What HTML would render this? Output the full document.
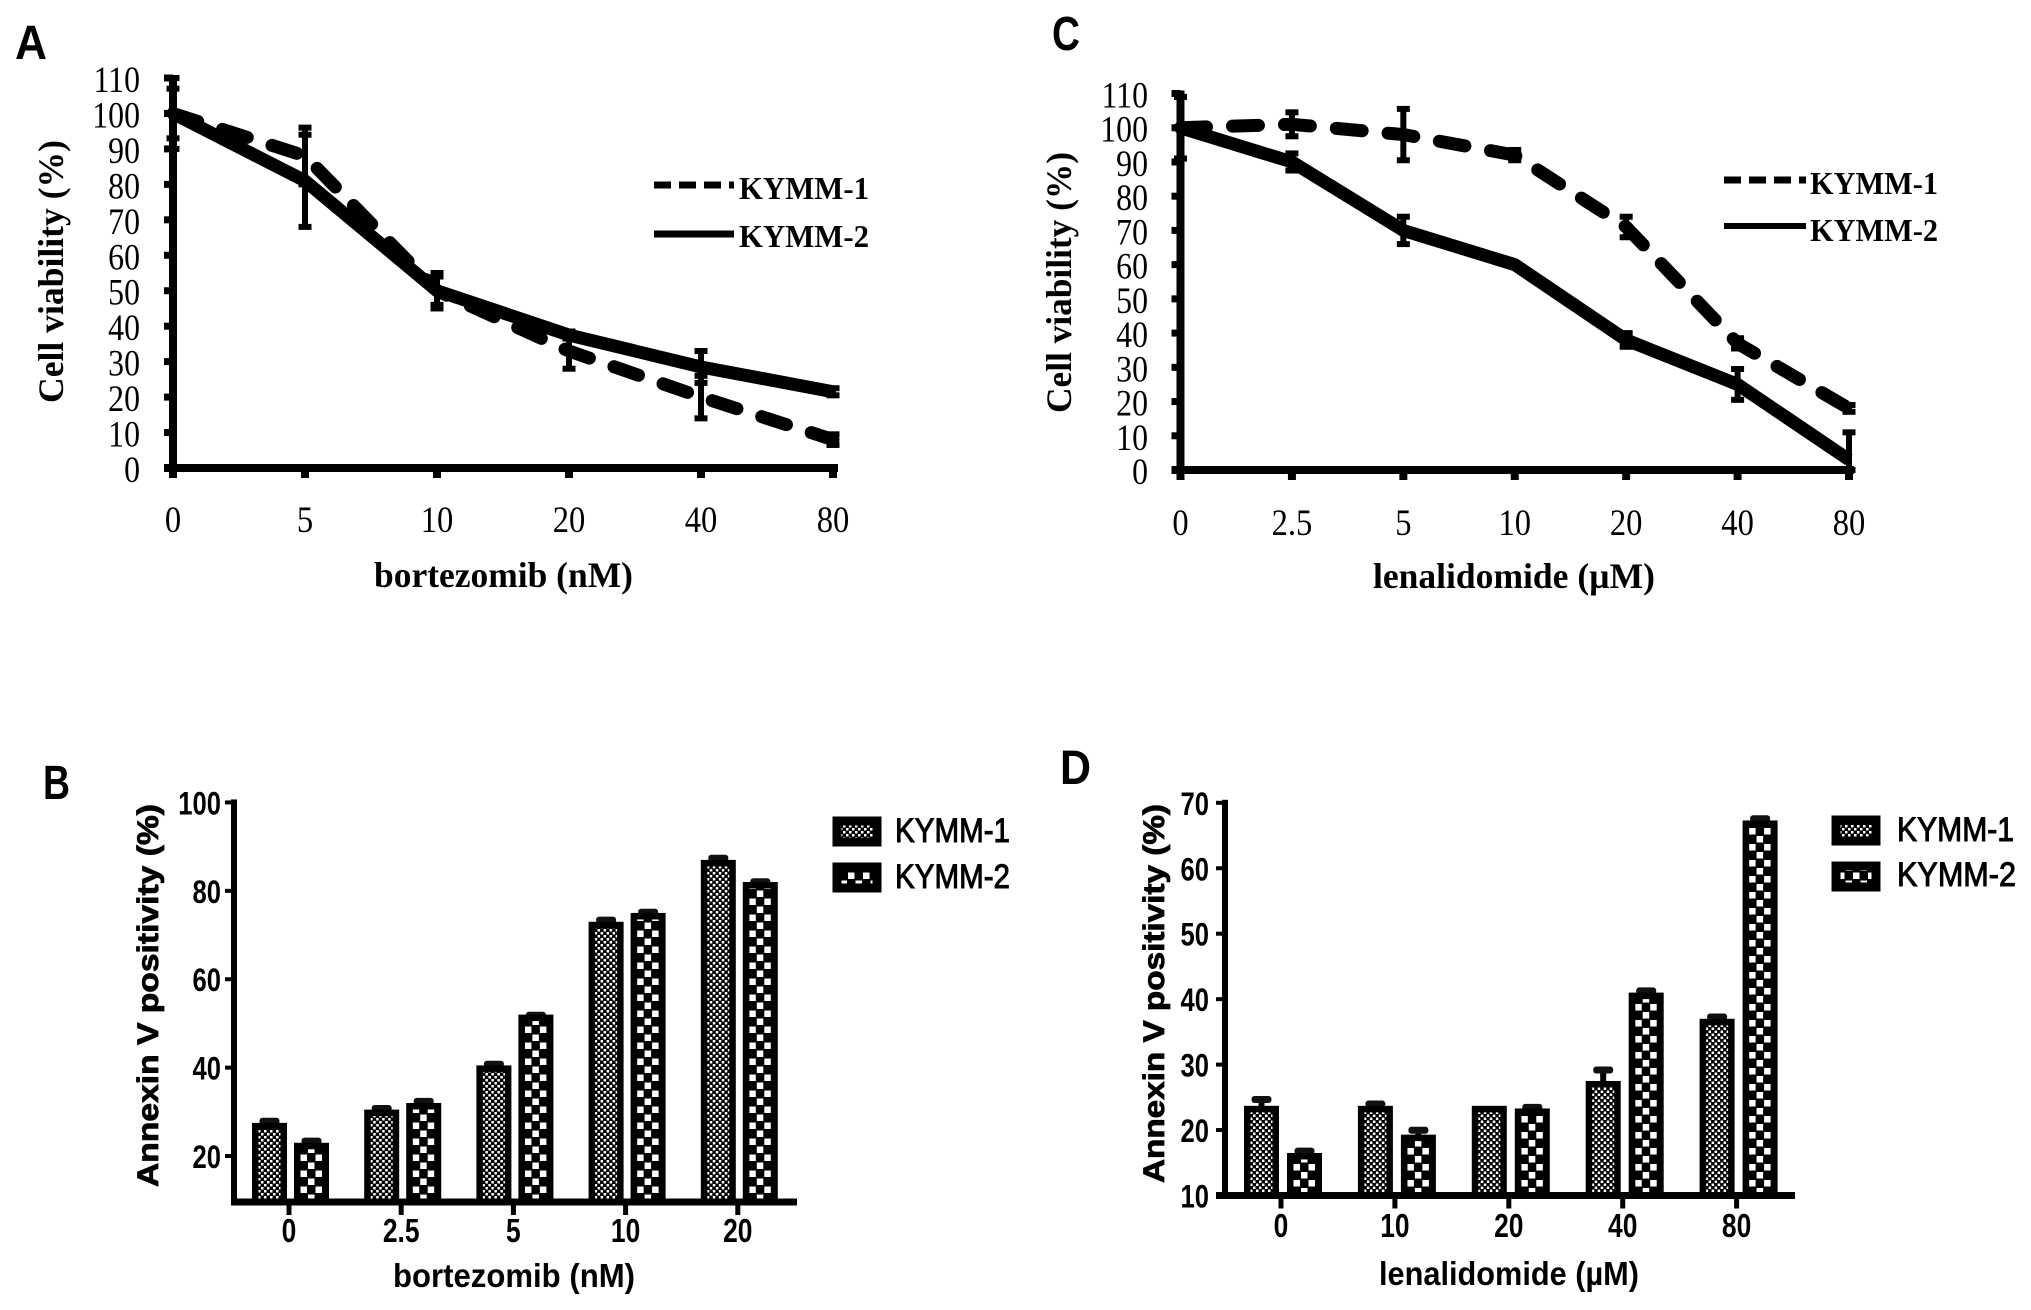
<!DOCTYPE html>
<html lang="en">
<head>
<meta charset="utf-8">
<title>Cell viability and Annexin V positivity</title>
<style>
html,body{margin:0;padding:0;background:#fff;}
svg{display:block;}
.serif{font-family:"Liberation Serif",serif;}
.sans{font-family:"Liberation Sans",sans-serif;}
</style>
</head>
<body>
<svg id="figure" width="2031" height="1310" viewBox="0 0 2031 1310" xmlns="http://www.w3.org/2000/svg">
<defs id="defs">
<pattern id="fine" patternUnits="userSpaceOnUse" width="6" height="6">
<rect width="6" height="6" fill="#000"/>
<rect x="0" y="0" width="2.5" height="2.5" fill="#fff"/>
<rect x="3" y="3" width="2.5" height="2.5" fill="#fff"/>
</pattern>
<pattern id="coarse" patternUnits="userSpaceOnUse" width="15" height="16">
<rect width="15" height="16" fill="#000"/>
<rect x="0.5" y="0.5" width="6.5" height="6.5" fill="#fff"/>
<rect x="8" y="8.5" width="6.5" height="6.5" fill="#fff"/>
</pattern>
</defs>
<rect width="2031" height="1310" fill="#fff"/>

<g class="sans" font-weight="700" font-size="48" fill="#000">
<text x="15" y="59" textLength="32" lengthAdjust="spacingAndGlyphs">A</text>
<text x="1052" y="50" textLength="28" lengthAdjust="spacingAndGlyphs">C</text>
<text x="43" y="799" textLength="27" lengthAdjust="spacingAndGlyphs">B</text>
<text x="1060" y="784" textLength="31" lengthAdjust="spacingAndGlyphs">D</text>
</g>

<g class="serif" font-weight="700" fill="#000">
<text transform="translate(63,403) rotate(-90)" font-size="36" textLength="263" lengthAdjust="spacingAndGlyphs">Cell viability (%)</text>
<text x="374" y="587" font-size="36" textLength="259" lengthAdjust="spacingAndGlyphs">bortezomib (nM)</text>
<text transform="translate(1071,413) rotate(-90)" font-size="36" textLength="261" lengthAdjust="spacingAndGlyphs">Cell viability (%)</text>
<text x="1373" y="588" font-size="36" textLength="282" lengthAdjust="spacingAndGlyphs">lenalidomide (µM)</text>

<g>
<line x1="654" y1="185" x2="734" y2="185" stroke="#000" stroke-width="7" stroke-dasharray="17 8"/>
<text x="739" y="199" font-size="32" textLength="130" lengthAdjust="spacingAndGlyphs">KYMM-1</text>
<line x1="654" y1="234" x2="734" y2="234" stroke="#000" stroke-width="7"/>
<text x="739" y="247" font-size="32" textLength="130" lengthAdjust="spacingAndGlyphs">KYMM-2</text>
</g>
<g>
<line x1="1724" y1="180" x2="1806" y2="180" stroke="#000" stroke-width="7" stroke-dasharray="17 8"/>
<text x="1810" y="194" font-size="32" textLength="128" lengthAdjust="spacingAndGlyphs">KYMM-1</text>
<line x1="1724" y1="226" x2="1806" y2="226" stroke="#000" stroke-width="6"/>
<text x="1810" y="241" font-size="32" textLength="128" lengthAdjust="spacingAndGlyphs">KYMM-2</text>
</g>
</g>

<g class="sans" font-weight="700" fill="#000">
<text transform="translate(158,1187) rotate(-90)" font-size="30" stroke="#000" stroke-width="0.8" textLength="383" lengthAdjust="spacingAndGlyphs">Annexin V positivity (%)</text>
<text x="393" y="1287" font-size="33" textLength="242" lengthAdjust="spacingAndGlyphs">bortezomib (nM)</text>
<text transform="translate(1164,1183) rotate(-90)" font-size="30" stroke="#000" stroke-width="0.8" textLength="379" lengthAdjust="spacingAndGlyphs">Annexin V positivity (%)</text>
<text x="1379" y="1285" font-size="33" textLength="260" lengthAdjust="spacingAndGlyphs">lenalidomide (µM)</text>

<g>
<rect x="837" y="821" width="40" height="21" fill="url(#fine)" stroke="#000" stroke-width="9"/>
<text x="895" y="842" font-size="34" font-weight="400" stroke="#000" stroke-width="1" textLength="115" lengthAdjust="spacingAndGlyphs">KYMM-1</text>
<rect x="837" y="867" width="40" height="21" fill="url(#coarse)" stroke="#000" stroke-width="9"/>
<text x="895" y="888" font-size="34" font-weight="400" stroke="#000" stroke-width="1" textLength="115" lengthAdjust="spacingAndGlyphs">KYMM-2</text>
</g>
<g>
<rect x="1836" y="820" width="40" height="21" fill="url(#fine)" stroke="#000" stroke-width="9"/>
<text x="1897" y="841" font-size="34" font-weight="400" stroke="#000" stroke-width="1" textLength="117" lengthAdjust="spacingAndGlyphs">KYMM-1</text>
<rect x="1836" y="866" width="40" height="21" fill="url(#coarse)" stroke="#000" stroke-width="9"/>
<text x="1897" y="886" font-size="34" font-weight="400" stroke="#000" stroke-width="1" textLength="119" lengthAdjust="spacingAndGlyphs">KYMM-2</text>
</g>
</g>
<g id="plots"></g>
</svg>
<script>
// Panel A: bortezomib viability
const aCategories = ['0', '5', '10', '20', '40', '80'];
const aKymm1 = [100, 88, 50, 33, 20, 8];
const aKymm2 = [100, 81, 50, 37.5, 28.5, 21.5];
const aKymm1Err = [10, 8, 5, 5, 6, 1.5];
const aKymm2Err = [7, 13, 4, 1, 4.5, 1];
// Panel C: lenalidomide viability
const cCategories = ['0', '2.5', '5', '10', '20', '40', '80'];
const cKymm1 = [100, 101, 98, 92, 71, 37, 18];
const cKymm2 = [100, 90, 70, 60, 38, 25, 3];
const cKymm1Err = [9, 3.5, 7.5, 1.5, 3, 1.5, 1];
const cKymm2Err = [9, 2.5, 4, 0, 2, 4.5, 8];
const viabilityTicks = [0, 10, 20, 30, 40, 50, 60, 70, 80, 90, 100, 110];
// Panel B: bortezomib Annexin V
const bCategories = ['0', '2.5', '5', '10', '20'];
const bKymm1 = [27.5, 30.5, 40.5, 73, 87];
const bKymm2 = [23, 32, 52, 75, 82];
const bKymm1Err = [0.7, 0.6, 0.6, 0.7, 0.7];
const bKymm2Err = [0.7, 0.7, 0.2, 0.5, 0.4];
const bTicks = [20, 40, 60, 80, 100];
// Panel D: lenalidomide Annexin V
const dCategories = ['0', '10', '20', '40', '80'];
const dKymm1 = [23.7, 23.7, 23.7, 27.5, 37];
const dKymm2 = [16.5, 19.3, 23.3, 41, 67.3];
const dKymm1Err = [1.2, 0.5, 0, 1.9, 0.5];
const dKymm2Err = [0.5, 0.9, 0.4, 0.5, 0.5];
const dTicks = [10, 20, 30, 40, 50, 60, 70];

const NS = 'http://www.w3.org/2000/svg';
const root = document.getElementById('plots');
const defs = document.getElementById('defs');

function make(tag, name, attrs, parent) {
  const node = document.createElementNS(NS, tag);
  
  
  for (const key in attrs) node.setAttribute(key, attrs[key]);
  (parent || root).appendChild(node);
  return node;
}

function alignedPattern(baseId, newId, x, y) {
  const clone = document.getElementById(baseId).cloneNode(true);
  clone.setAttribute('id', newId);
  clone.setAttribute('x', x);
  clone.setAttribute('y', y);
  defs.appendChild(clone);
  return 'url(#' + newId + ')';
}

function label(name, content, x, y, opts, parent) {
  const node = make('text', name, {
    transform: 'translate(' + x + ',' + y + ') scale(' + (opts.sx || 1) + ',1)',
    'text-anchor': opts.anchor,
    'font-size': opts.size,
    'font-weight': opts.weight,
    'font-family': opts.family,
    fill: '#000'
  }, parent);
  node.textContent = content;
  return node;
}

function linePanel(id, cfg, cats, k1, k2, k1Err, k2Err, ticks) {
  const g = make('g', 'panel-' + id + '-line-chart', {}, root);
  const xAt = function (i) { return cfg.x0 + i * (cfg.x1 - cfg.x0) / (cats.length - 1); };
  const yAt = function (v) { return cfg.y0 + v * (cfg.y110 - cfg.y0) / 110; };
  const serif = '"Liberation Serif", serif';

  make('rect', 'panel-' + id + '-y-axis', {x: cfg.x0 - 4, y: yAt(110) - 3, width: 8, height: cfg.y0 - yAt(110) + 7, fill: '#000'}, g);
  make('rect', 'panel-' + id + '-x-axis', {x: cfg.x0 - 9, y: cfg.y0 - 4, width: cfg.x1 - cfg.x0 + 14, height: 8, fill: '#000'}, g);

  ticks.forEach(function (t) {
    make('rect', 'panel-' + id + '-y-tick-' + t, {x: cfg.x0 - 9, y: yAt(t) - 3.5, width: 9, height: 7, fill: '#000'}, g);
    label('panel-' + id + '-y-tick-label-' + t, String(t), cfg.labelRight, yAt(t) + 14, {anchor: 'end', size: 37, weight: 400, family: serif, sx: 0.86}, g);
  });
  cats.forEach(function (c, i) {
    make('rect', 'panel-' + id + '-x-tick-' + c, {x: xAt(i) - 4, y: cfg.y0, width: 8, height: 10, fill: '#000'}, g);
    label('panel-' + id + '-x-tick-label-' + c, c, xAt(i), cfg.xLabelY, {anchor: 'middle', size: 37, weight: 400, family: serif, sx: 0.88}, g);
  });

  function errorBars(series, errs, tag) {
    series.forEach(function (v, i) {
      if (errs[i] <= 0) return;
      const top = Math.min(yAt(v + errs[i]), cfg.y0);
      const bottom = Math.min(yAt(v - errs[i]), cfg.y0);
      make('rect', 'panel-' + id + '-' + tag + '-error-stem-' + cats[i], {x: xAt(i) - 3, y: top, width: 6, height: bottom - top, fill: '#000'}, g);
      make('rect', 'panel-' + id + '-' + tag + '-error-cap-top-' + cats[i], {x: xAt(i) - 6.5, y: top - 3, width: 13, height: 6, fill: '#000'}, g);
      make('rect', 'panel-' + id + '-' + tag + '-error-cap-bottom-' + cats[i], {x: xAt(i) - 6.5, y: bottom - 3, width: 13, height: 6, fill: '#000'}, g);
    });
  }
  errorBars(k1, k1Err, 'kymm1');
  errorBars(k2, k2Err, 'kymm2');

  const pts = function (s) { return s.map(function (v, i) { return xAt(i) + ',' + yAt(v); }).join(' '); };
  make('polyline', 'panel-' + id + '-kymm1-line', {points: pts(k1), fill: 'none', stroke: '#000', 'stroke-width': 13, 'stroke-linecap': 'round', 'stroke-linejoin': 'round', 'stroke-dasharray': '26 26'}, g);
  make('polyline', 'panel-' + id + '-kymm2-line', {points: pts(k2), fill: 'none', stroke: '#000', 'stroke-width': 13, 'stroke-linejoin': 'round'}, g);
}

function barPanel(id, cfg, cats, k1, k2, k1Err, k2Err, ticks) {
  const g = make('g', 'panel-' + id + '-bar-chart', {}, root);
  const yAt = function (v) { return cfg.yBase + (v - cfg.vBase) * cfg.pxPerUnit; };
  const xAt = function (i) { return cfg.x0 + i * cfg.step; };
  const sans = '"Liberation Sans", sans-serif';

  function bar(tag, value, err, left, base, cat) {
    const top = yAt(value);
    if (err > 0) {
      const cx = left + cfg.barW / 2;
      make('rect', 'panel-' + id + '-' + tag + '-error-stem-' + cat, {x: cx - 3, y: yAt(value + err), width: 6, height: top - yAt(value + err) + 2, fill: '#000'}, g);
      make('rect', 'panel-' + id + '-' + tag + '-error-cap-' + cat, {x: cx - 10, y: yAt(value + err) - 2, width: 20, height: 7, rx: 3, fill: '#111'}, g);
    }
    const fill = alignedPattern(base, 'pattern-' + id + '-' + tag + '-' + cat.replace('.', '-'), left + 6, cfg.yBase);
    make('rect', 'panel-' + id + '-' + tag + '-bar-' + cat, {x: left + 3.25, y: top + 3.25, width: cfg.barW - 6.5, height: cfg.yBase - top - 3.25, fill: fill, stroke: '#000', 'stroke-width': 6.5}, g);
  }
  cats.forEach(function (c, i) {
    bar('kymm1', k1[i], k1Err[i], xAt(i) + cfg.off1, 'fine', c);
    bar('kymm2', k2[i], k2Err[i], xAt(i) + cfg.off2, 'coarse', c);
    make('rect', 'panel-' + id + '-x-tick-' + c, {x: xAt(i) - 2.5, y: cfg.yBase, width: 5, height: 13, fill: '#000'}, g);
    label('panel-' + id + '-x-tick-label-' + c, c, xAt(i), cfg.xLabelY, {anchor: 'middle', size: 33, weight: 700, family: sans, sx: 0.8}, g);
  });
  make('rect', 'panel-' + id + '-y-axis', {x: cfg.axisX - 3, y: yAt(ticks[ticks.length - 1]) - 3, width: 6, height: cfg.yBase - yAt(ticks[ticks.length - 1]) + 6, fill: '#000'}, g);
  make('rect', 'panel-' + id + '-x-axis', {x: cfg.axisX - cfg.axisLead, y: cfg.yBase - 3.5, width: cfg.axisRight - cfg.axisX + cfg.axisLead, height: 7, fill: '#000'}, g);
  ticks.forEach(function (t) {
    make('rect', 'panel-' + id + '-y-tick-' + t, {x: cfg.axisX - 9, y: yAt(t) - 2, width: 9, height: 4, fill: '#000'}, g);
    label('panel-' + id + '-y-tick-label-' + t, String(t), cfg.labelRight, yAt(t) + 12, {anchor: 'end', size: 32, weight: 700, family: sans, sx: 0.8}, g);
  });
}

linePanel('a', {x0: 173, x1: 833, y0: 468, y110: 78, labelRight: 140, xLabelY: 532}, aCategories, aKymm1, aKymm2, aKymm1Err, aKymm2Err, viabilityTicks);
linePanel('c', {x0: 1180.5, x1: 1849, y0: 470, y110: 93.5, labelRight: 1148, xLabelY: 535}, cCategories, cKymm1, cKymm2, cKymm1Err, cKymm2Err, viabilityTicks);
barPanel('b', {x0: 289, step: 112.2, yBase: 1202, vBase: 9.6, pxPerUnit: -4.42, barW: 35, off1: -37, off2: 5, axisX: 234, axisRight: 797, axisLead: 3, labelRight: 221, xLabelY: 1242}, bCategories, bKymm1, bKymm2, bKymm1Err, bKymm2Err, bTicks);
barPanel('d', {x0: 1281, step: 113.9, yBase: 1195.5, vBase: 10, pxPerUnit: -6.545, barW: 35, off1: -37, off2: 6, axisX: 1225, axisRight: 1795, axisLead: 9, labelRight: 1209, xLabelY: 1237}, dCategories, dKymm1, dKymm2, dKymm1Err, dKymm2Err, dTicks);
</script>
</body>
</html>
